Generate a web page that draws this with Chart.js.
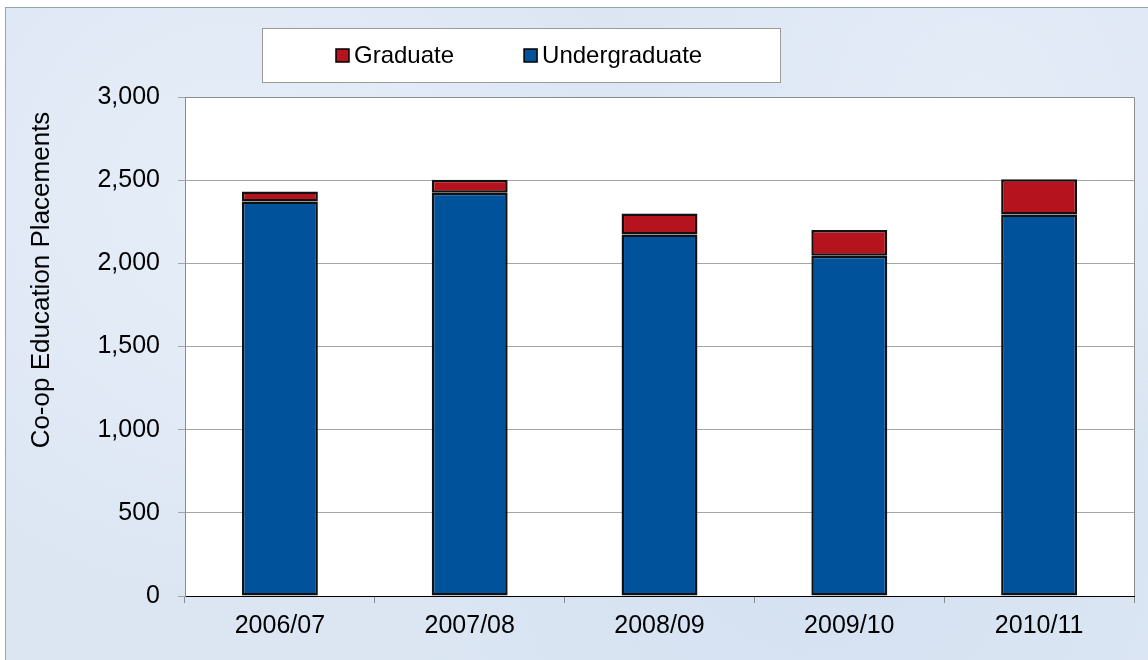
<!DOCTYPE html>
<html>
<head>
<meta charset="utf-8">
<script src="https://cdn.jsdelivr.net/npm/chart.js@4"></script>
<style>
  html, body { margin: 0; padding: 0; background: #fff; }
  #frame {
    position: absolute; left: 6px; top: 8px; width: 1142px; height: 652px;
    background: #dce6f3;
    background-image: radial-gradient(circle at 20% 30%, #e6eef8 0, transparent 40%),
                      radial-gradient(circle at 70% 80%, #d4e1f1 0, transparent 45%),
                      radial-gradient(circle at 85% 15%, #e3ecf7 0, transparent 35%);
    outline: 1px solid #9aa3ad;
  }
  #chart { position: absolute; left: 0; top: 0; }
</style>
</head>
<body>
<div id="frame"><canvas id="chart" width="1142" height="652"></canvas></div>
<script>
    // Дані
    const years = ['2006/07', '2007/08', '2008/09', '2009/10', '2010/11'];
    const undergraduate = [2372, 2424, 2174, 2046, 2294];
    const graduate = [60, 78, 126, 154, 212];
    const yTicks = [0, 500, 1000, 1500, 2000, 2500, 3000];
    const yTitle = 'Co-op Education Placements';

    const FONT = "'Liberation Sans', Arial, sans-serif";

    // Біла область графіка з рамкою
    const plotAreaPlugin = {
        id: 'plotArea',
        beforeDraw(chart) {
            const { ctx, chartArea: a } = chart;
            ctx.save();
            ctx.fillStyle = '#ffffff';
            ctx.fillRect(a.left, a.top, a.right - a.left, a.bottom - a.top);
            ctx.restore();
        },
        afterDraw(chart) {
            const { ctx, chartArea: a } = chart;
            ctx.save();
            ctx.strokeStyle = '#8c8c8c';
            ctx.lineWidth = 1;
            ctx.beginPath();
            ctx.moveTo(a.left, a.top + 0.5);
            ctx.lineTo(a.right + 0.5, a.top + 0.5);
            ctx.lineTo(a.right + 0.5, a.bottom);
            ctx.stroke();
            // підпис осі Y
            ctx.translate(36, 272);
            ctx.rotate(-Math.PI / 2);
            ctx.font = '26px ' + FONT;
            ctx.fillStyle = '#000';
            ctx.textAlign = 'center';
            ctx.textBaseline = 'middle';
            ctx.fillText(yTitle, 0, 0);
            ctx.restore();
        }
    };

    // Легенда в рамці
    const boxLegendPlugin = {
        id: 'boxLegend',
        afterDraw(chart) {
            const ctx = chart.ctx;
            ctx.save();
            ctx.fillStyle = '#ffffff';
            ctx.fillRect(256, 20, 518, 54);
            ctx.strokeStyle = '#9a9a9a';
            ctx.lineWidth = 1;
            ctx.strokeRect(256.5, 20.5, 518, 54);
            ctx.font = '24px ' + FONT;
            ctx.textBaseline = 'middle';
            let x = 330;
            const sets = chart.data.datasets.slice().reverse();
            sets.forEach(ds => {
                ctx.fillStyle = ds.backgroundColor;
                ctx.fillRect(x, 41, 13, 13);
                ctx.strokeStyle = '#000';
                ctx.lineWidth = 1.5;
                ctx.strokeRect(x, 41, 13, 13);
                ctx.fillStyle = '#000';
                ctx.fillText(ds.label, x + 18, 48);
                x += 18 + ctx.measureText(ds.label).width + 70;
            });
            ctx.restore();
        }
    };

    const chartData = {
        labels: years,
        datasets: [
            {
                label: 'Undergraduate',
                data: undergraduate,
                backgroundColor: '#00529b',
                borderColor: '#111111',
                borderWidth: 2.5,
                borderSkipped: false,
                categoryPercentage: 1,
                barPercentage: 0.4
            },
            {
                label: 'Graduate',
                data: graduate,
                backgroundColor: '#b5141e',
                borderColor: '#111111',
                borderWidth: 2.5,
                borderSkipped: false,
                categoryPercentage: 1,
                barPercentage: 0.4
            }
        ]
    };

    const config = {
        type: 'bar',
        data: chartData,
        options: {
            responsive: false,
            animation: false,
            layout: { padding: { top: 89, right: 14, left: 0, bottom: 0 } },
            plugins: {
                legend: { display: false },
                tooltip: { enabled: false }
            },
            scales: {
                x: {
                    stacked: true,
                    afterFit(scale) { scale.height = 64; },
                    grid: {
                        offset: true,
                        drawOnChartArea: false,
                        drawTicks: true,
                        tickLength: 7,
                        color: '#8c8c8c'
                    },
                    border: { color: '#000000', width: 1 },
                    ticks: {
                        color: '#000',
                        padding: 8,
                        maxRotation: 0,
                        font: { family: FONT, size: 25 }
                    }
                },
                y: {
                    stacked: true,
                    min: 0,
                    max: 3000,
                    afterFit(scale) { scale.width = 179; },
                    afterBuildTicks(scale) {
                        scale.ticks = yTicks.map(v => ({ value: v }));
                    },
                    grid: {
                        color: '#a6a6a6',
                        lineWidth: 1,
                        tickLength: 7,
                        drawTicks: true
                    },
                    border: { color: '#8c8c8c', width: 1 },
                    ticks: {
                        color: '#000',
                        padding: 18,
                        font: { family: FONT, size: 25 },
                        callback: v => v.toLocaleString('en-US')
                    }
                }
            }
        },
        plugins: [plotAreaPlugin, boxLegendPlugin]
    };

    // Рендер
    const ctx = document.getElementById('chart').getContext('2d');
    new Chart(ctx, config);
</script>
</body>
</html>
